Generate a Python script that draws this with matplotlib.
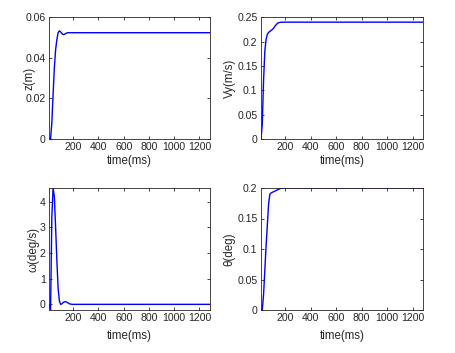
import matplotlib
matplotlib.use("Agg")
import matplotlib.pyplot as plt

plt.rcParams['font.family'] = ['Liberation Sans', 'DejaVu Sans']

# time samples (ms)
time_ms = [10, 20, 30, 40, 50, 60, 70, 80, 90, 100, 110, 120, 130, 140, 150,
           160, 170, 180, 190, 200, 1280]

z_m = [0, 0, 0.008, 0.022, 0.035, 0.044, 0.049, 0.0525, 0.0533, 0.0528, 0.052,
       0.0515, 0.0516, 0.052, 0.0523, 0.0524, 0.0524, 0.0524, 0.0524, 0.0524, 0.0524]

vy_ms = [0, 0.03, 0.12, 0.18, 0.205, 0.215, 0.219, 0.221, 0.223, 0.225, 0.228,
         0.232, 0.235, 0.238, 0.239, 0.2395, 0.24, 0.24, 0.24, 0.24, 0.24]

omega_degs = [0, -0.22, 3.4, 4.53, 4.2, 3.0, 1.7, 0.62, 0.13, 0.0, 0.02, 0.07,
              0.1, 0.1, 0.08, 0.05, 0.02, 0.01, 0.0, 0.0, 0.0]

theta_deg = [0, 0, 0.025, 0.065, 0.105, 0.14, 0.175, 0.19, 0.192, 0.193, 0.194,
             0.195, 0.196, 0.197, 0.198, 0.199, 0.1995, 0.2, 0.2, 0.2, 0.2]

x_ticks = [200, 400, 600, 800, 1000, 1200]
x_ticklabels = ['200', '400', '600', '800', '1000', '1200']

z_ticks = [0, 0.02, 0.04, 0.06]
z_ticklabels = ['0', '0.02', '0.04', '0.06']
vy_ticks = [0, 0.05, 0.1, 0.15, 0.2, 0.25]
vy_ticklabels = ['0', '0.05', '0.1', '0.15', '0.2', '0.25']
om_ticks = [0, 1, 2, 3, 4]
om_ticklabels = ['0', '1', '2', '3', '4']
th_ticks = [0, 0.05, 0.1, 0.15, 0.2]
th_ticklabels = ['0', '0.05', '0.1', '0.15', '0.2']

W, H = 455, 353
fig = plt.figure(figsize=(W / 100, H / 100), dpi=100)

dark = '#262626'
# (left, top, right, bottom) in px, data, ylabel, ticks, labels, ylim, ylabel x px, xlabel y px
panels = [
    ((49.3, 17.3, 209.5, 139), z_m, 'z(m)', z_ticks, z_ticklabels, (0, 0.06), 30, 161),
    ((261, 17.3, 422.7, 139), vy_ms, 'Vy(m/s)', vy_ticks, vy_ticklabels, (0, 0.25), 230, 161),
    ((49.3, 188, 209.5, 310), omega_degs, 'ω(deg/s)', om_ticks, om_ticklabels,
     (min(omega_degs), max(omega_degs)), 33, 336),
    ((261, 188, 422.7, 310), theta_deg, 'θ(deg)', th_ticks, th_ticklabels, (0, 0.2), 229, 336),
]

for (l, t, r, b), ys, ylabel, yt, ytl, ylim, ylx, xly in panels:
    ax = fig.add_axes([l / W, 1 - b / H, (r - l) / W, (b - t) / H])
    ax.plot(time_ms, ys, color='#0000ff', lw=1.0)
    ax.set_xlim(10, 1280)
    ax.set_ylim(*ylim)
    ax.set_xticks(x_ticks)
    ax.set_xticklabels(x_ticklabels)
    ax.set_yticks(yt)
    ax.set_yticklabels(ytl)
    ax.set_xlabel('time(ms)', fontsize=8.3, color=dark)
    ax.set_ylabel(ylabel, fontsize=8.3, color=dark)
    ax.xaxis.set_label_coords(0.5, (b - xly) / (b - t))
    ax.xaxis.label.set_va('center')
    ax.yaxis.set_label_coords((ylx - l) / (r - l), 0.5)
    ax.yaxis.label.set_va('center')
    ax.yaxis.label.set_ha('center')
    ax.tick_params(direction='in', length=2.5, width=0.6, labelsize=7.6,
                   colors=dark, top=True, right=True, pad=2.5)
    for s in ax.spines.values():
        s.set_color(dark)
        s.set_linewidth(0.6)

fig.savefig('out.png', dpi=100)
